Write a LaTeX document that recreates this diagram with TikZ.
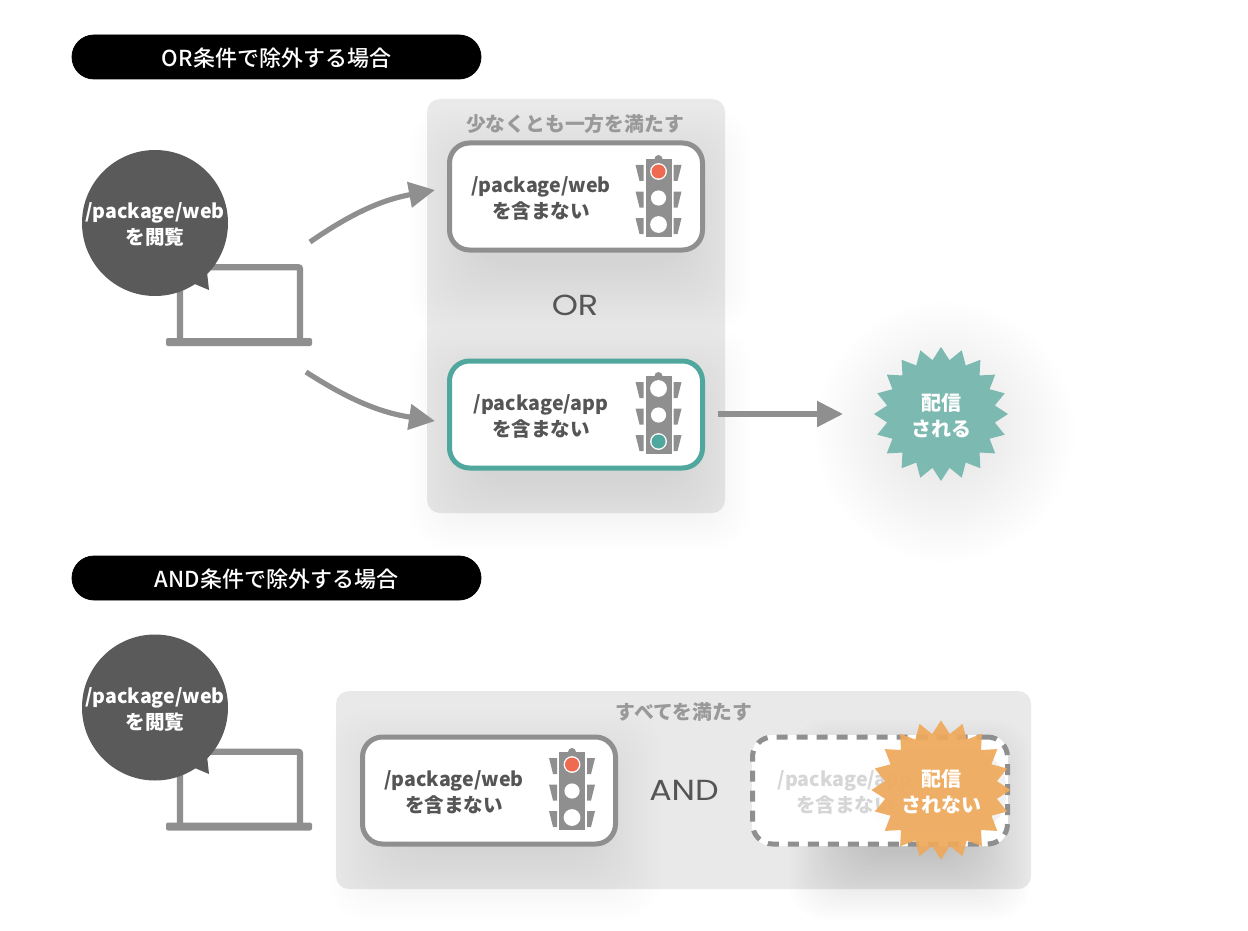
\documentclass[tikz,border=0pt]{standalone}
\usepackage{fontspec}
\setmainfont{Noto Sans CJK JP}
\newfontfamily\medfont{Noto Sans CJK JP Medium}
\newfontfamily\latinfont[FakeStretch=1.15]{Poppins}
\usetikzlibrary{arrows.meta,shapes.geometric}

\definecolor{iconGray}{HTML}{8F8F8F}
\definecolor{bubbleGray}{HTML}{5A5A5A}
\definecolor{panelGray}{HTML}{E9E9E9}
\definecolor{titleGray}{HTML}{999999}
\definecolor{textGray}{HTML}{555555}
\definecolor{lampRed}{HTML}{EE6A50}
\definecolor{lampTeal}{HTML}{4FA79D}
\definecolor{starTeal}{HTML}{7CB9B1}
\definecolor{starOrange}{HTML}{EFA95C}

% soft shadow: stacked translucent boxes (x1,y1,x2,y2,opacity)
\newcommand{\softshade}[5]{
  \foreach \i in {1,...,20}
    \fill[black,opacity=#5,rounded corners=18pt]
      ({#1-\i*3.5},{#2-\i*3.5}) rectangle ({#3+\i*3.5},{#4+\i*3.5});
}
% traffic light with the lamp colours top, middle, bottom
\newcommand{\signal}[5]{
  \begin{scope}[shift={(#1,#2)}]
    \fill[iconGray] (-13,-39) rectangle (13,39);
    \fill[iconGray] (0,-39) circle (4);
    \foreach \dy in {0,26.5,53} {
      \fill[iconGray] (-23,{-33+\dy}) -- (-15,{-33+\dy}) -- (-15,{-17+\dy}) -- (-19,{-17+\dy}) -- cycle;
      \fill[iconGray] (23,{-33+\dy}) -- (15,{-33+\dy}) -- (15,{-17+\dy}) -- (19,{-17+\dy}) -- cycle;
    }
    \fill[white] (0,-26.5) circle (8.4);
    \fill[white] (0,0) circle (7.6);
    \fill[white] (0,26.5) circle (8.4);
    \fill[#3] (0,-26.5) circle (7);
    \fill[#4] (0,0) circle (7);
    \fill[#5] (0,26.5) circle (7);
  \end{scope}
}
% laptop, left end of the base and top of the lid
\newcommand{\laptop}[2]{
  \begin{scope}[shift={(#1,#2)}]
    \draw[iconGray,line width=3.2pt,rounded corners=1pt] (14,78) -- (14,3.2) -- (134,3.2) -- (134,78);
    \fill[iconGray,rounded corners=1pt] (0,74) rectangle (146,82);
  \end{scope}
}

\begin{document}
\begin{tikzpicture}[x=.5pt,y=-.5pt,>={Triangle[length=13pt,width=12.5pt]},
    pill node/.style={fill=black,draw=black,rounded corners=11pt,minimum width=204.5pt,minimum height=22pt,
      text=white,text height=11pt,text depth=1.4pt,font=\medfont\fontsize{11}{13}\selectfont,inner sep=0pt},
    panel node/.style={fill=panelGray,rounded corners=6.5pt,inner sep=0pt},
    card node/.style={draw=iconGray,fill=white,line width=2.5pt,rounded corners=10pt,
      minimum width=126.5pt,minimum height=53.5pt,inner sep=0pt},
    card text/.style={align=center,text=textGray,font=\bfseries\fontsize{9.8}{13}\selectfont,inner sep=0pt},
    panel title/.style={text=titleGray,font=\bfseries\fontsize{9.9}{11}\selectfont,inner sep=0pt},
    op text/.style={text=textGray,font=\latinfont\fontsize{14.5}{16}\selectfont,inner sep=0pt},
    main node/.style={circle,fill=bubbleGray,minimum size=73pt,inner sep=0pt},
    bubble text/.style={align=center,text=white,font=\bfseries\fontsize{9.8}{13}\selectfont,inner sep=0pt},
    star node/.style={star,star points=20,star point ratio=1.23,minimum size=67pt,inner sep=0pt,
      align=center,text=white,font=\bfseries\fontsize{10}{13}\selectfont},
    link/.style={->,draw=iconGray,line width=2.6pt}]

  \useasboundingbox[fill=white] (0,0) rectangle (1248,931);

  % first case
  \node[pill node] (orhead) at (276.5,57) {OR条件で除外する場合};

  \node[panel node,minimum width=149pt,minimum height=207pt] (orpanel) at (576,306) {};
  \softshade{480}{180}{680}{262}{.0045}
  \softshade{480}{398}{680}{480}{.0045}
  \foreach \i in {1,...,20}
    \fill[black,opacity=.002] (945,432) circle ({40+\i*4.5});

  \node[panel title] (ortitle) at (575,124) {少なくとも一方を満たす};
  \node[card node] (webcard) at (576,196.5) {};
  \node[card text] (webtext) at (541,198) {/package/web\\を含まない};
  \signal{658.5}{198}{lampRed}{white}{white}
  \node[op text] (ortext) at (575,305) {OR};
  \node[card node,draw=lampTeal] (appcard) at (576,414.5) {};
  \node[card text] (apptext) at (541,416) {/package/app\\を含まない};
  \signal{658.5}{415}{white}{white}{lampTeal}

  \node[star node,fill=starTeal] (sent) at (941,414) {\rule{0pt}{10.2pt}配信\\される};

  \laptop{166}{264}
  \node[main node] (bubble1) at (155,223) {};
  \fill[bubbleGray] (190,282) -- (207,272) -- (209,290) -- cycle;
  \node[bubble text] (bubbletext1) at (155,224) {/package/web\\を閲覧};

  \coordinate (pc1top) at (310,242);
  \coordinate (pc1low) at (306,372);
  \coordinate (webin) at (435,190);
  \coordinate (appin) at (435,421);
  \coordinate (appout) at (718,414);
  \coordinate (sentin) at (843,414);
  \draw[link] (pc1top) to[bend left=12] (webin);
  \draw[link] (pc1low) to[bend right=12] (appin);
  \draw[link] (appout) -- (sentin);

  % second case
  \node[pill node] (andhead) at (276.5,578) {AND条件で除外する場合};

  \softshade{420}{760}{960}{860}{.0018}
  \node[panel node,minimum width=347.5pt,minimum height=99pt] (andpanel) at (683.5,790) {};
  \softshade{400}{780}{590}{850}{.0045}
  \softshade{860}{790}{960}{850}{.0065}

  \node[panel title] (andtitle) at (684,712) {すべてを満たす};
  \node[card node] (webcard2) at (489,790.5) {};
  \node[card text] (webtext2) at (454,792) {/package/web\\を含まない};
  \signal{572}{791}{lampRed}{white}{white}
  \node[op text] (andtext) at (684,790) {AND};

  \fill[white,rounded corners=10pt] (752,735) rectangle (1008,846);
  \foreach \i in {1,...,14}
    \fill[black,opacity=.005,rounded corners=18pt] ({960-\i*7},{750}) rectangle (1006,{832});
  \node[card node,fill=none,dashed,dash pattern=on 5.5pt off 4.5pt,minimum width=127.5pt] (dropcard) at (880,790.5) {};
  \node[card text,text=black!16] (droptext) at (845,792) {/package/app\\を含まない};

  \node[star node,fill=starOrange,fill opacity=.93,text opacity=1] (blocked) at (941,790) {\rule{0pt}{10.2pt}配信\\されない};

  \laptop{166}{748.5}
  \node[main node] (bubble2) at (155,707.5) {};
  \fill[bubbleGray] (190,766) -- (207,756) -- (209,774) -- cycle;
  \node[bubble text] (bubbletext2) at (155,709) {/package/web\\を閲覧};
\end{tikzpicture}
\end{document}
